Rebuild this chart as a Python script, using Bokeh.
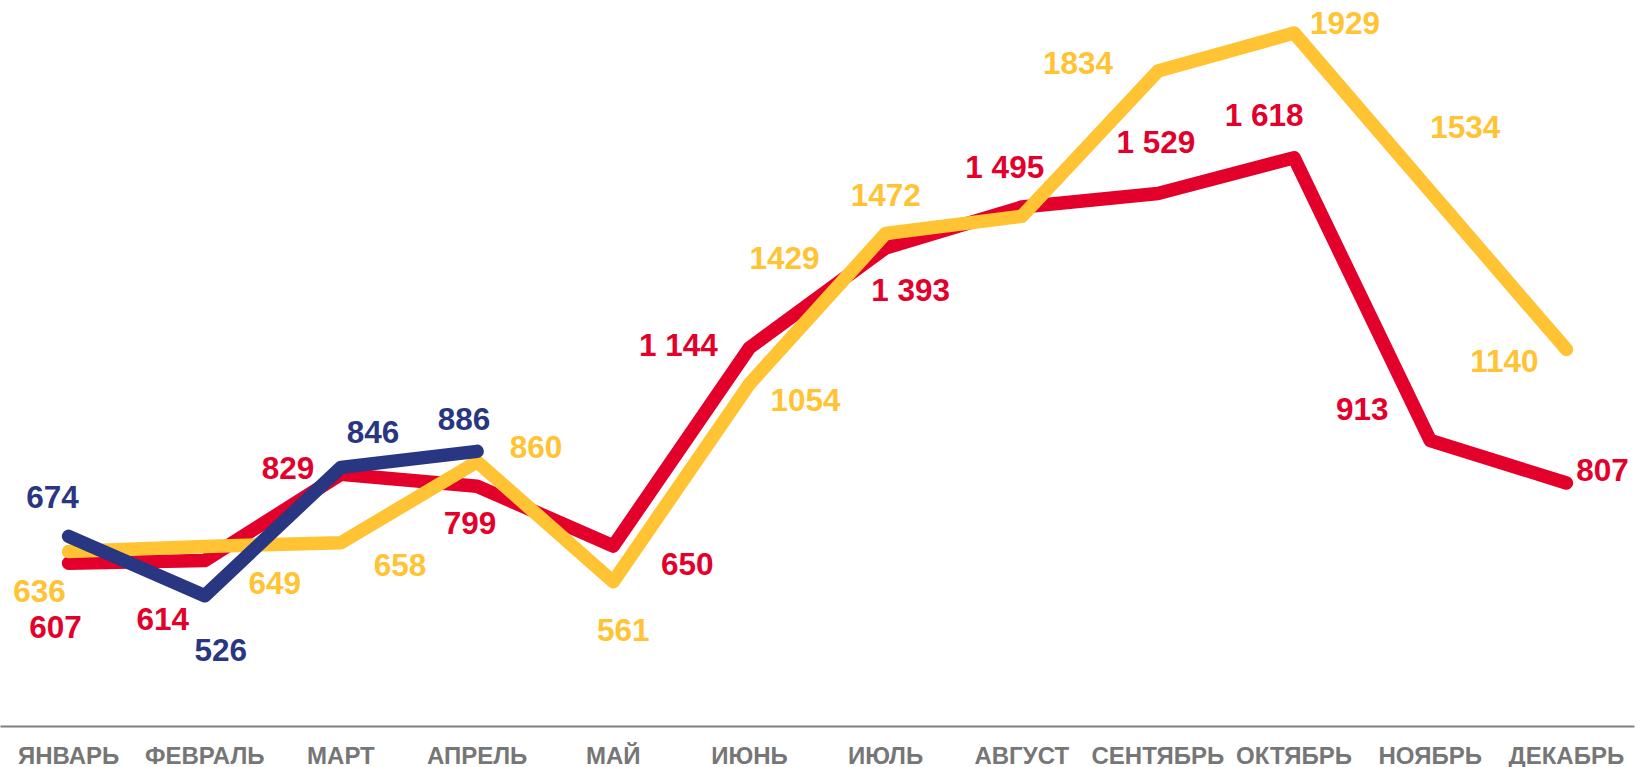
from bokeh.plotting import figure
from bokeh.models import ColumnDataSource, Range1d, FixedTicker
from bokeh.core.properties import value
from bokeh.embed import file_html
from bokeh.resources import INLINE

months = ["ЯНВАРЬ", "ФЕВРАЛЬ", "МАРТ", "АПРЕЛЬ", "МАЙ", "ИЮНЬ",
          "ИЮЛЬ", "АВГУСТ", "СЕНТЯБРЬ", "ОКТЯБРЬ", "НОЯБРЬ", "ДЕКАБРЬ"]
red_values = [607, 614, 829, 799, 650, 1144, 1393, 1495, 1529, 1618, 913, 807]
yellow_values = [636, 649, 658, 860, 561, 1054, 1429, 1472, 1834, 1929, 1534, 1140]
navy_values = [674, 526, 846, 886]

# label offsets in screen pixels (dx, dy), styling only
red_off = [(-13, 64), (-42, 59), (-53, -6), (-7, 37), (74, 18), (-71, -3),
           (25, 42), (-17, -40), (-2, -51), (-30, -43), (-68, -32), (36, -13)]
yellow_off = [(-29, 39), (70, 37), (59, 22), (59, -15), (10, 48), (56, 16),
              (-101, 24), (-136, -21), (-80, -8), (51, -10), (35, -64), (-62, 12)]
navy_off = [(-16, -39), (16, 54), (32, -35), (-13, -32)]

RED = "#E3002B"
YELLOW = "#FFC333"
NAVY = "#293682"
FONT = "Liberation Sans"

p = figure(frame_width=1634, frame_height=726, output_backend="svg",
           toolbar_location=None, y_axis_location=None,
           x_range=Range1d(-0.5, 11.5), y_range=Range1d(200, 2010),
           min_border_left=0, min_border_top=0, min_border_right=15,
           min_border_bottom=0)
p.outline_line_color = None
p.xgrid.visible = False
p.ygrid.visible = False
p.background_fill_color = "white"
p.border_fill_color = "white"


def series(vals, color, offs, fmt):
    xs = list(range(len(vals)))
    src = ColumnDataSource(dict(
        x=xs, y=vals, label=[fmt(v) for v in vals],
        dx=[o[0] for o in offs], dy=[o[1] for o in offs]))
    p.line("x", "y", source=src, line_color=color, line_width=13.5,
           line_join="round", line_cap="round")
    return src


def labels(src, color):
    p.text("x", "y", text="label", source=src, x_offset="dx", y_offset="dy",
           text_color=color, text_font=value(FONT), text_font_style="bold",
           text_font_size="31.5px", text_align="center",
           text_baseline="middle")


fmt_space = lambda v: f"{v:,}".replace(",", " ")
fmt_plain = lambda v: str(v)

s_red = series(red_values, RED, red_off, fmt_space)
s_yel = series(yellow_values, YELLOW, yellow_off, fmt_plain)
s_nav = series(navy_values, NAVY, navy_off, fmt_plain)
labels(s_red, RED)
labels(s_yel, YELLOW)
labels(s_nav, NAVY)

ax = p.xaxis[0]
ax.ticker = FixedTicker(ticks=list(range(len(months))))
ax.major_label_overrides = {i: m for i, m in enumerate(months)}
ax.major_tick_line_color = None
ax.minor_tick_line_color = None
ax.axis_line_color = "#7F7F7F"
ax.axis_line_width = 2
ax.major_label_text_font = FONT
ax.major_label_text_font_style = "bold"
ax.major_label_text_font_size = "24px"
ax.major_label_text_color = "#767676"
ax.major_label_standoff = 9

open("out.html", "w").write(file_html(p, INLINE))
